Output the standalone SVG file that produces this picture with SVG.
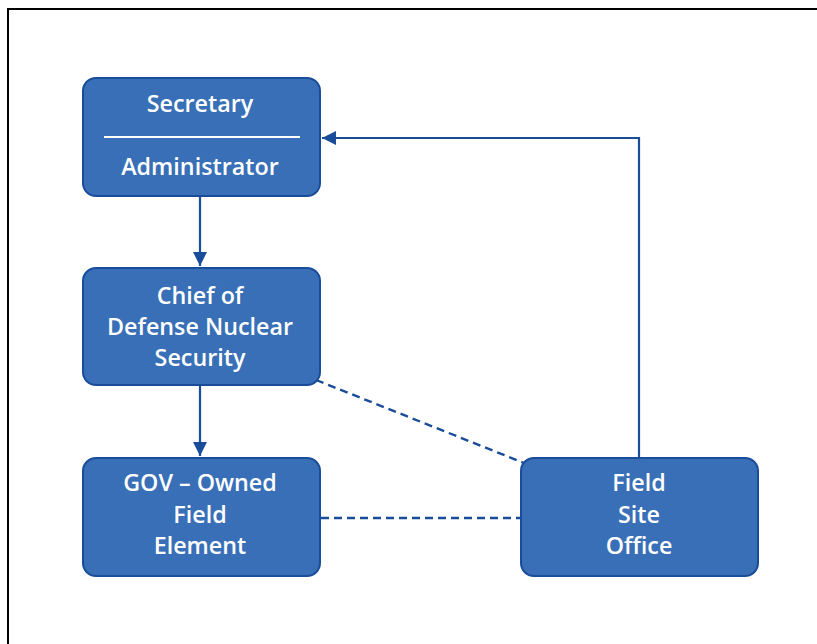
<svg xmlns="http://www.w3.org/2000/svg" width="817" height="644" viewBox="0 0 817 644">
<defs>
<style>
.box{fill:#386fb7;stroke:#1a4d99;stroke-width:2}
.t{font-family:"Open Sans","Noto Sans","Liberation Sans",sans-serif;font-weight:600;font-size:23.3px;fill:#ffffff;text-anchor:middle}
.c{fill:none;stroke:#1a4d99;stroke-width:2.2}
.d{fill:none;stroke:#1a4d99;stroke-width:2.4;stroke-dasharray:8,5}
</style>
<marker id="ah" viewBox="0 0 10 10" refX="10" refY="5" markerWidth="14" markerHeight="14" markerUnits="userSpaceOnUse" orient="auto">
<path d="M0,0 L10,5 L0,10 z" fill="#1a4d99"/>
</marker>
</defs>
<rect x="0" y="0" width="817" height="644" fill="#ffffff"/>
<path d="M8,644 V9 H817" fill="none" stroke="#000" stroke-width="2"/>
<g id="connectors">
<line class="c" x1="200" y1="197" x2="200" y2="266" marker-end="url(#ah)"/>
<line class="c" x1="200" y1="386" x2="200" y2="456" marker-end="url(#ah)"/>
<polyline class="c" points="639,458 639,138 322,138" marker-end="url(#ah)"/>
<line class="d" x1="316" y1="380" x2="524" y2="463"/>
<line class="d" x1="321" y1="518" x2="521" y2="518"/>
</g>
<g id="secretary">
<rect class="box" x="83" y="78" width="237" height="118" rx="13"/>
<text class="t" x="200" y="112">Secretary</text>
<line x1="104" y1="137" x2="300" y2="137" stroke="#fff" stroke-width="2"/>
<text class="t" x="200" y="175">Administrator</text>
</g>
<g id="chief">
<rect class="box" x="83" y="268" width="237" height="117" rx="13"/>
<text class="t" x="200" y="304">Chief of</text>
<text class="t" x="200" y="335">Defense Nuclear</text>
<text class="t" x="200" y="366">Security</text>
</g>
<g id="gov">
<rect class="box" x="83" y="458" width="237" height="118" rx="13"/>
<text class="t" x="200" y="491">GOV – Owned</text>
<text class="t" x="200" y="523">Field</text>
<text class="t" x="200" y="554">Element</text>
</g>
<g id="field">
<rect class="box" x="521" y="458" width="237" height="118" rx="13"/>
<text class="t" x="639" y="491">Field</text>
<text class="t" x="639" y="523">Site</text>
<text class="t" x="639" y="554">Office</text>
</g>
</svg>
